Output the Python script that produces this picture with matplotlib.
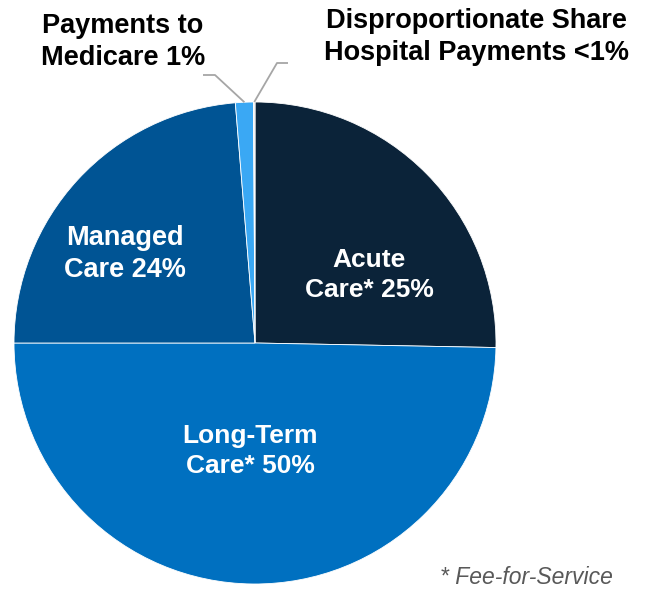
import matplotlib.pyplot as plt
import numpy as np

plt.rcParams['font.family'] = ['Liberation Sans', 'DejaVu Sans']

# Medicaid spending shares, clockwise from 12 o'clock
categories = ['Acute Care', 'Long-Term Care', 'Managed Care',
              'Payments to Medicare', 'Disproportionate Share Hospital Payments']
shares = [25.3, 49.7, 23.7, 1.2, 0.1]
labels = ['Acute\nCare* 25%', 'Long-Term\nCare* 50%', 'Managed\nCare 24%',
          'Payments to\nMedicare 1%', 'Disproportionate Share\nHospital Payments <1%']
colors = ['#0B2339', '#0070C0', '#005494', '#3AA8F4', '#E6E6E6']

W, H = 649, 593
fig = plt.figure(figsize=(W / 100, H / 100), dpi=100)
ax = fig.add_axes([0, 0, 1, 1])

cx, cy, r = 255, H - 343, 241
wedges, _ = ax.pie(shares, startangle=90, counterclock=False, colors=colors,
                   center=(cx, cy), radius=r, frame=True,
                   wedgeprops=dict(edgecolor='white', linewidth=0.6))
ax.set_xlim(0, W)
ax.set_ylim(0, H)
ax.set_aspect('equal')
ax.axis('off')

# labels inside the three big slices
inner_pos = [(369, H - 275), (250, H - 451), (125, H - 254)]
inner_size = [19, 19, 19.5]
for (x, y), lab, fs in zip(inner_pos, labels[:3], inner_size):
    ax.text(x, y, lab, ha='center', va='center', color='white',
            fontsize=fs, fontweight='bold', linespacing=1.3)

# small slices: leader lines from the rim to labels above the pie
elbows = [[(215, H - 75), (203, H - 75)], [(277, H - 63), (288, H - 63)]]
outer_pos = [(123, H - 42), (476, H - 37)]
for w, pts, (tx, ty), lab in zip(wedges[3:], elbows, outer_pos, labels[3:]):
    mid = np.deg2rad((w.theta1 + w.theta2) / 2)
    x0, y0 = cx + r * np.cos(mid), cy + r * np.sin(mid)
    xs = [x0] + [p[0] for p in pts]
    ys = [y0] + [p[1] for p in pts]
    ax.plot(xs, ys, color='#A6A6A6', lw=1.3, solid_capstyle='butt')
    ax.text(tx, ty, lab, ha='center', va='center', color='black',
            fontsize=19.5, fontweight='bold', linespacing=1.3)

ax.text(613, H - 578, '* Fee-for-Service', ha='right', va='center',
        fontsize=16.5, style='italic', color='#595959')

fig.savefig('out.png', dpi=100)
